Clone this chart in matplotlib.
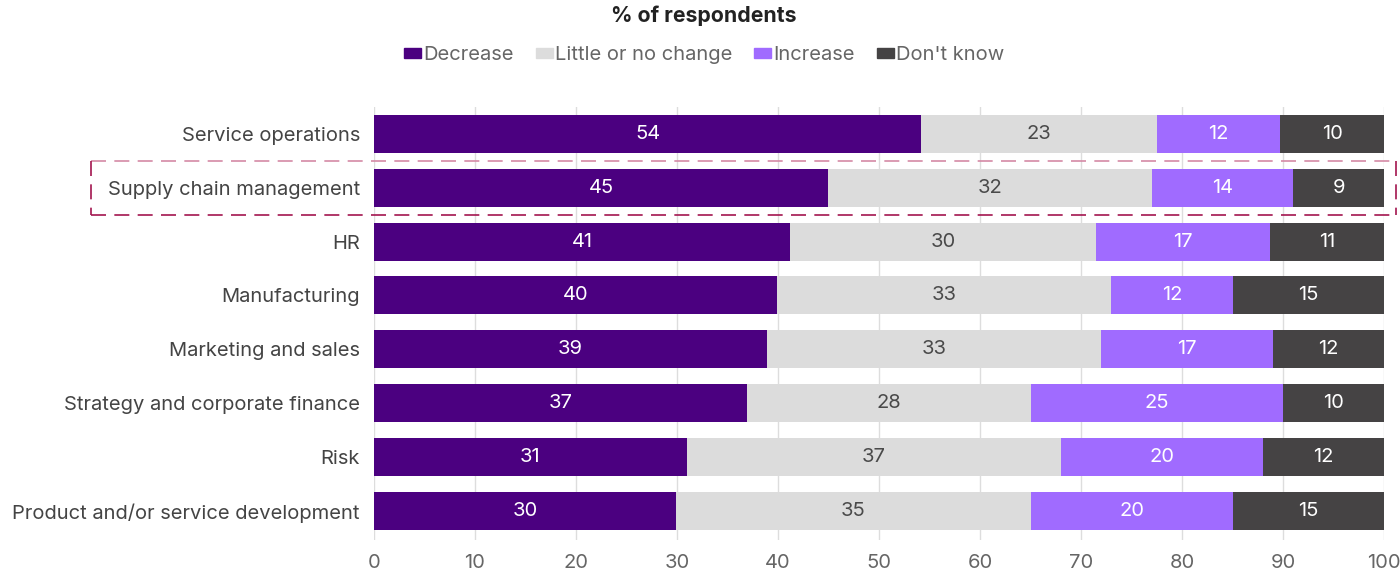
import matplotlib.pyplot as plt
from matplotlib.lines import Line2D
from matplotlib.patches import Rectangle

plt.rcParams['font.family'] = ['Inter', 'DejaVu Sans']

categories = [
    'Service operations',
    'Supply chain management',
    'HR',
    'Manufacturing',
    'Marketing and sales',
    'Strategy and corporate finance',
    'Risk',
    'Product and/or service development',
]
series_names = ['Decrease', 'Little or no change', 'Increase', "Don't know"]
decrease = [54.2, 45.0, 41.2, 39.9, 38.9, 36.9, 31.0, 29.9]
no_change = [23.3, 32.0, 30.3, 33.1, 33.1, 28.1, 37.0, 35.1]
increase = [12.2, 14.0, 17.2, 12.0, 17.0, 25.0, 20.0, 20.0]
dont_know = [10.3, 9.0, 11.3, 15.0, 11.5, 10.0, 12.0, 15.0]
xticks = [0, 10, 20, 30, 40, 50, 60, 70, 80, 90, 100]

colors = ['#4b0080', '#dcdcdc', '#a06bff', '#454344']
text_colors = ['white', '#4a4a4a', 'white', 'white']
series = [decrease, no_change, increase, dont_know]

fig = plt.figure(figsize=(14, 5.73), dpi=100)
ax = fig.add_axes([0.267, 0.0576, 0.7217, 0.7557])

y = list(range(len(categories)))
left = [0.0] * len(categories)
for vals, col, tcol in zip(series, colors, text_colors):
    bars = ax.barh(y, vals, left=left, height=0.705, color=col, zorder=3)
    for b, v in zip(bars, vals):
        xc = b.get_x() + min(b.get_width(), 100 - b.get_x()) / 2
        ax.text(xc, b.get_y() + b.get_height() / 2,
                f'{round(v)}', ha='center', va='center', color=tcol,
                fontsize=14.5, zorder=4)
    left = [l + v for l, v in zip(left, vals)]

ax.set_xlim(0, 100)
ax.set_ylim(7.54, -0.5)
ax.set_yticks(y)
ax.set_yticklabels(categories, fontsize=14.5, color='#444444')
ax.set_xticks(xticks)
ax.set_xticklabels([str(t) for t in xticks], fontsize=14.5, color='#666666')
ax.tick_params(length=0, pad=10)
ax.tick_params(axis='y', pad=10)
ax.grid(axis='x', color='#dddddd', linewidth=1, zorder=0)
for s in ax.spines.values():
    s.set_visible(False)

# dashed highlight around supply chain row
x0, x1 = -28.0, 101.2
y0, y1 = 0.5, 1.5
ax.add_line(Line2D([x0, x1], [y0, y0], color='#d48aa6', lw=1.2,
                   linestyle=(0, (9, 5)), clip_on=False, zorder=5))
for xs, ys in [([x0, x1], [y1, y1]), ([x0, x0], [y0, y1]), ([x1, x1], [y0, y1])]:
    ax.add_line(Line2D(xs, ys, color='#a3154f', lw=1.2,
                       linestyle=(0, (9, 5)), clip_on=False, zorder=5))

fig.text(0.503, 0.973, '% of respondents', ha='center', va='center',
         fontsize=15.3, fontweight='bold', color='#222222')

handles = [Rectangle((0, 0), 1, 1, color=c) for c in colors]
fig.legend(handles, series_names, loc='center', bbox_to_anchor=(0.503, 0.904),
           ncol=4, frameon=False, fontsize=14.5, handlelength=0.85,
           handleheight=0.4, handletextpad=0.1, columnspacing=1.1,
           labelcolor='#666666')

fig.savefig('out.png', dpi=100)
